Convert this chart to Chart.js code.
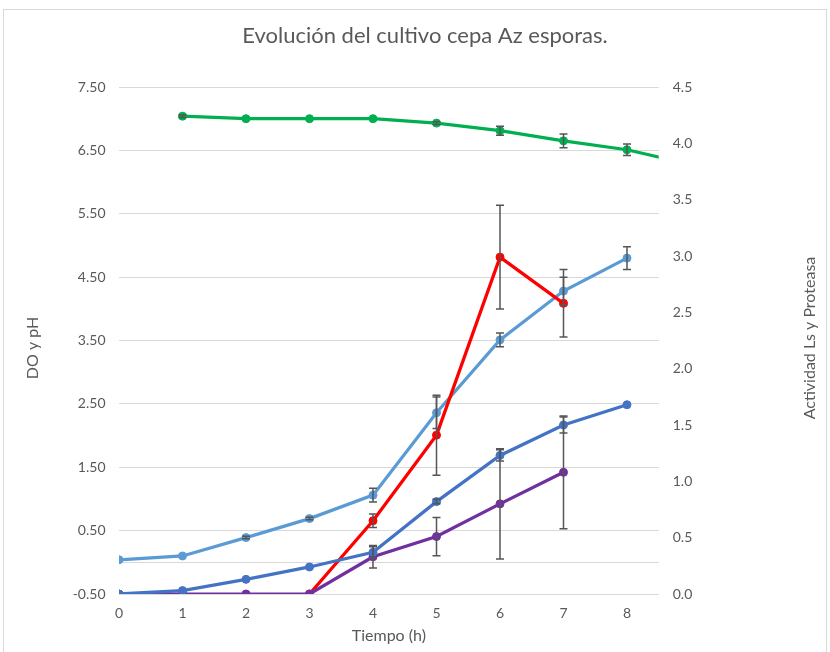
<!DOCTYPE html>
<html>
<head>
<meta charset="utf-8">
<script src="https://cdn.jsdelivr.net/npm/chart.js@4/dist/chart.umd.min.js"></script>
<style>
  html, body { margin: 0; padding: 0; background: #ffffff; }
  #wrap { width: 830px; height: 652px; position: relative; }
</style>
</head>
<body>
<div id="wrap"><canvas id="grafico" width="830" height="652"></canvas></div>
<script>
// Tiempo de muestreo (h)
const tiempo = [0, 1, 2, 3, 4, 5, 6, 7, 8, 9];

// Eje izquierdo: DO y pH
const pH       = [null, 7.04, 7.00, 7.00, 7.00, 6.93, 6.81, 6.65, 6.51, 6.28];
const pHErr    = [0, 0.02, 0, 0, 0, 0.02, 0.07, 0.11, 0.09, 0];
const DO       = [0.04, 0.10, 0.39, 0.69, 1.06, 2.36, 3.51, 4.28, 4.80, null];
const DOErr    = [0, 0, 0.02, 0.02, 0.11, 0.25, 0.11, 0.22, 0.18, 0];

// Eje derecho: actividades
const actividadLs    = [null, null, null, 0.00, 0.65, 1.41, 2.99, 2.58, null, null];
const actividadLsErr = [0, 0, 0, 0, 0.06, 0.355, 0.46, 0.30, 0, 0];
const proteasa       = [0.00, 0.00, 0.00, 0.00, 0.33, 0.51, 0.80, 1.08, null, null];
const proteasaErr    = [0, 0, 0, 0, 0.10, 0.17, 0.49, 0.50, 0, 0];
const actividadTot   = [0.00, 0.03, 0.13, 0.24, 0.37, 0.82, 1.23, 1.50, 1.68, null];
const actividadTotErr= [0, 0, 0, 0, 0.05, 0.02, 0.05, 0.07, 0, 0];

// Marcas de los ejes
const ticksX   = [0, 1, 2, 3, 4, 5, 6, 7, 8];
const ticksIzq = [-0.5, 0.5, 1.5, 2.5, 3.5, 4.5, 5.5, 6.5, 7.5];
const ticksDer = [0, 0.5, 1, 1.5, 2, 2.5, 3, 3.5, 4, 4.5];

const titulo      = 'Evolución del cultivo cepa Az esporas.';
const tituloX     = 'Tiempo (h)';
const tituloIzq   = 'DO y pH';
const tituloDer   = 'Actividad Ls y Proteasa';

const FUENTE = 'Lato, "Open Sans", sans-serif';
const GRIS_TEXTO = '#595959';
const GRIS_REJILLA = '#d9d9d9';

function puntos(valores) {
  return tiempo.map((t, i) => ({ x: t, y: valores[i] }));
}

function serie(label, valores, errores, color, eje, orden) {
  return {
    label,
    data: puntos(valores),
    errores,
    yAxisID: eje,
    order: orden,
    borderColor: color,
    backgroundColor: color,
    pointBackgroundColor: color,
    pointBorderColor: color,
    borderWidth: 3.25,
    pointRadius: 4,
    pointBorderWidth: 1,
    tension: 0,
    spanGaps: false
  };
}

const adornos = {
  id: 'adornos',
  beforeDraw(chart) {
    const ctx = chart.ctx;
    ctx.save();
    ctx.fillStyle = '#ffffff';
    ctx.fillRect(0, 0, chart.width, chart.height);
    ctx.restore();
  },
  afterDatasetsDraw(chart) {
    const ctx = chart.ctx;
    const xs = chart.scales.x;
    const area = chart.chartArea;
    ctx.save();
    ctx.strokeStyle = '#555555';
    ctx.lineWidth = 1.5;
    chart.data.datasets.forEach((ds) => {
      const err = ds.errores;
      if (!err) return;
      const ys = chart.scales[ds.yAxisID];
      ds.data.forEach((p, j) => {
        if (p.y == null || !err[j]) return;
        const x = xs.getPixelForValue(p.x);
        if (x > area.right + 1) return;
        const yA = ys.getPixelForValue(p.y + err[j]);
        const yB = ys.getPixelForValue(p.y - err[j]);
        ctx.beginPath();
        ctx.moveTo(x, yA); ctx.lineTo(x, yB);
        ctx.moveTo(x - 4, yA); ctx.lineTo(x + 4, yA);
        ctx.moveTo(x - 4, yB); ctx.lineTo(x + 4, yB);
        ctx.stroke();
      });
    });
    ctx.restore();
  },
  afterDraw(chart) {
    const ctx = chart.ctx;
    const area = chart.chartArea;
    ctx.save();
    // marco del gráfico
    ctx.strokeStyle = GRIS_REJILLA;
    ctx.lineWidth = 1;
    ctx.strokeRect(3.5, 9.5, 823, 660);

    ctx.fillStyle = GRIS_TEXTO;
    ctx.textAlign = 'center';
    ctx.textBaseline = 'middle';

    ctx.font = '22px ' + FUENTE;
    ctx.fillText(titulo, 425, 36);

    ctx.font = '16px ' + FUENTE;
    ctx.fillText(tituloX, (area.left + area.right) / 2, 636);

    ctx.save();
    ctx.translate(33, 348);
    ctx.rotate(-Math.PI / 2);
    ctx.fillText(tituloIzq, 0, 0);
    ctx.restore();

    ctx.save();
    ctx.translate(810, 338);
    ctx.rotate(-Math.PI / 2);
    ctx.fillText(tituloDer, 0, 0);
    ctx.restore();

    ctx.restore();
  }
};

Chart.defaults.font.family = FUENTE;
Chart.defaults.color = GRIS_TEXTO;

new Chart(document.getElementById('grafico'), {
  type: 'line',
  data: {
    datasets: [
      serie('pH', pH, pHErr, '#00b050', 'y', 1),
      serie('Actividad total', actividadTot, actividadTotErr, '#4472c4', 'y1', 2),
      serie('Proteasa', proteasa, proteasaErr, '#7030a0', 'y1', 3),
      serie('Actividad Ls', actividadLs, actividadLsErr, '#ff0000', 'y1', 4),
      serie('DO', DO, DOErr, '#5b9bd5', 'y', 5)
    ]
  },
  options: {
    responsive: false,
    animation: false,
    devicePixelRatio: 1,
    layout: { padding: { top: 87, left: 0, right: 111.25, bottom: 0 } },
    plugins: {
      legend: { display: false },
      tooltip: { enabled: false },
      title: { display: false }
    },
    scales: {
      x: {
        type: 'linear',
        min: 0,
        max: 8.5,
        grid: { display: false, drawTicks: false },
        border: { display: false },
        ticks: {
          padding: 11,
          font: { size: 14 },
          color: GRIS_TEXTO,
          callback: (v) => String(v)
        },
        afterBuildTicks: (s) => { s.ticks = ticksX.map(v => ({ value: v })); },
        afterFit: (s) => { s.height = 58; }
      },
      y: {
        type: 'linear',
        position: 'left',
        min: -0.5,
        max: 7.5,
        grid: { color: GRIS_REJILLA, lineWidth: 1, drawTicks: false },
        border: { display: false },
        ticks: {
          padding: 13.5,
          font: { size: 14 },
          color: GRIS_TEXTO,
          callback: (v) => (v === 0 ? '' : v.toFixed(2))
        },
        afterBuildTicks: (s) => {
          s.ticks = [...ticksIzq, 0].sort((a, b) => a - b).map(v => ({ value: v }));
        },
        afterFit: (s) => { s.width = 119; }
      },
      y1: {
        type: 'linear',
        position: 'right',
        min: 0,
        max: 4.5,
        grid: { display: false, drawTicks: false },
        border: { display: false },
        ticks: {
          padding: 14,
          font: { size: 14 },
          color: GRIS_TEXTO,
          callback: (v) => v.toFixed(1)
        },
        afterBuildTicks: (s) => { s.ticks = ticksDer.map(v => ({ value: v })); },
        afterFit: (s) => { s.width = 60; }
      }
    }
  },
  plugins: [adornos]
});
</script>
</body>
</html>
